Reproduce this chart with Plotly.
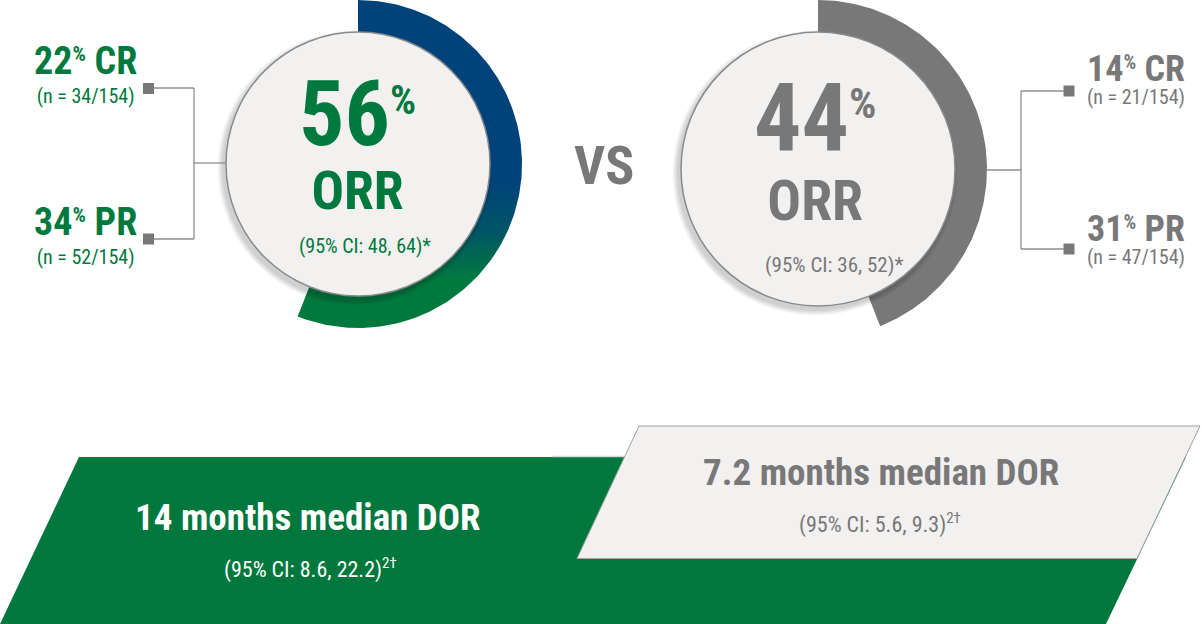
import numpy as np
import plotly.graph_objects as go

W, H = 1202, 624

# ---------------- data ----------------
arms = ["Treatment", "Comparator"]
orr_pct = [56, 44]
orr_ci = ["48, 64", "36, 52"]
cr_pct = [22, 14]
cr_n = ["34/154", "21/154"]
pr_pct = [34, 31]
pr_n = ["52/154", "47/154"]
dor_months = ["14", "7.2"]
dor_ci = ["8.6, 22.2", "5.6, 9.3"]

# ---------------- styles ----------------
GREEN = "#00793F"
BLUE = "#00437A"
GREY = "#787878"
LIGHT = "#F2F1F0"
LINE = "#8E8E8E"
FONT = "Roboto Condensed, Roboto, sans-serif"

donuts = [
    dict(cx=358, cy=164, r_out=164, r_in=130, r_circ=132),
    dict(cx=818, cy=169, r_out=169, r_in=135, r_circ=137),
]

fig = go.Figure()
shapes = []
annotations = []


def ring_xy(cx, cy, r_in, r_out, frac, n=200):
    th = np.linspace(0, frac * 2 * np.pi, n)
    xo = cx + r_out * np.sin(th)
    yo = cy - r_out * np.cos(th)
    xi = cx + r_in * np.sin(th[::-1])
    yi = cy - r_in * np.cos(th[::-1])
    return np.r_[xo, xi, xo[0]], np.r_[yo, yi, yo[0]]


for i, d in enumerate(donuts):
    x, y = ring_xy(d["cx"], d["cy"], d["r_in"], d["r_out"], orr_pct[i] / 100)
    if i == 0:
        fig.add_trace(go.Scatter(
            x=x, y=y, mode="lines", fill="toself", line=dict(width=0),
            fillgradient=dict(type="vertical", start=0, stop=320,
                              colorscale=[[0, BLUE], [0.57, BLUE], [0.72, "#005466"], [0.87, GREEN], [1, GREEN]]),
            hoverinfo="skip", showlegend=False, name=arms[i]))
    else:
        fig.add_trace(go.Scatter(
            x=x, y=y, mode="lines", fill="toself", line=dict(width=0),
            fillcolor=GREY, hoverinfo="skip", showlegend=False, name=arms[i]))

    cx, cy, r = d["cx"], d["cy"], d["r_circ"]
    for k, op in enumerate([0.05, 0.05, 0.05, 0.04]):
        rr = r + 1 + k * 1.5
        shapes.append(dict(type="circle", xref="x", yref="y", layer="above",
                           x0=cx - 3 - rr, x1=cx - 3 + rr, y0=cy + 4 - rr, y1=cy + 4 + rr,
                           fillcolor=f"rgba(0,0,0,{op})", line=dict(width=0)))
    shapes.append(dict(type="circle", xref="x", yref="y", layer="above",
                       x0=cx - r, x1=cx + r, y0=cy - r, y1=cy + r,
                       fillcolor=LIGHT, line=dict(color="#8A8A8A", width=1.5)))


def seg(x0, y0, x1, y1):
    shapes.append(dict(type="line", xref="x", yref="y", layer="above",
                       x0=x0, y0=y0, x1=x1, y1=y1, line=dict(color=LINE, width=1.3)))

seg(154, 88, 194, 88); seg(154, 239, 194, 239); seg(194, 88, 194, 239); seg(194, 163, 226, 163)
seg(1021, 91, 1064, 91); seg(1021, 249, 1064, 249); seg(1021, 91, 1021, 249); seg(987, 170, 1021, 170)

fig.add_trace(go.Scatter(
    x=[148.5, 148.5, 1069, 1069], y=[88.5, 239, 91, 249], mode="markers",
    marker=dict(symbol="square", size=11, color=GREY), hoverinfo="skip", showlegend=False))

shapes.append(dict(type="path", xref="x", yref="y", layer="below",
                   path="M 79 457 L 1186 457 L 1106 624 L 0 624 Z",
                   fillcolor="#00773D", line=dict(width=0)))
shapes.append(dict(type="line", xref="x", yref="y", layer="below",
                   x0=552, y0=456.5, x1=630, y1=456.5, line=dict(color="#D8D8D8", width=1.5)))
shapes.append(dict(type="path", xref="x", yref="y", layer="below",
                   path="M 639 426 L 1200 426 L 1137 558.5 L 577 558.5 Z",
                   fillcolor=LIGHT, line=dict(color="#A0A0A0", width=1)))


def ann(x, y, text, size, color, xanchor="center", yanchor="middle", weight="bold",
        family=FONT, align="center"):
    annotations.append(dict(x=x, y=y, xref="x", yref="y", text=text, showarrow=False,
                            xanchor=xanchor, yanchor=yanchor, align=align,
                            font=dict(family=family, size=size, color=color, weight=weight)))


def span(t, px, extra=""):
    return f'<span style="font-size:{px}px;{extra}">{t}</span>'


def big(num, px, orr_px):
    return (span(num, px) + span("%", round(px * 0.46), f"baseline-shift:{round(px * 0.35)}px")
            + "<br>" + span("ORR", orr_px))


def label(pct, kind, n, px):
    return (span(pct, px) + span("%", round(px * 0.55), f"baseline-shift:{round(px * 0.34)}px")
            + span(" " + kind, px) + "<br>" + span(f"(n = {n})", 20, "font-weight:normal"))


def ci_dor(ci):
    return f"(95% CI: {ci})" + span("2†", 15, "baseline-shift:9px")


# big ORR figures
ann(357, 60, big(orr_pct[0], 90, 54), 49, GREEN, yanchor="top")
ann(365, 246, f"(95% CI: {orr_ci[0]})*", 20, GREEN, weight="normal")
ann(815, 62, big(orr_pct[1], 94, 56), 53, GREY, yanchor="top")
ann(834, 265, f"(95% CI: {orr_ci[1]})*", 21, GREY, weight="normal")

# VS
ann(604, 165, "VS", 54, GREY)

# CR / PR labels
ann(85, 37, label(cr_pct[0], "CR", cr_n[0], 38), 22, GREEN, yanchor="top")
ann(85, 198, label(pr_pct[0], "PR", pr_n[0], 38), 22, GREEN, yanchor="top")
ann(1085, 46, label(cr_pct[1], "CR", cr_n[1], 36), 18, GREY, yanchor="top", xanchor="left", align="left")
ann(1085, 206, label(pr_pct[1], "PR", pr_n[1], 36), 18, GREY, yanchor="top", xanchor="left", align="left")

# DOR panels
ann(308, 517, f"{dor_months[0]} months median DOR", 37, "white")
ann(310, 568, ci_dor(dor_ci[0]), 22, "white", weight="normal")
ann(881, 472, f"{dor_months[1]} months median DOR", 37, GREY)
ann(880, 523, ci_dor(dor_ci[1]), 22, GREY, weight="normal")

fig.update_layout(
    width=W, height=H, margin=dict(l=0, r=0, t=0, b=0),
    paper_bgcolor="white", plot_bgcolor="white",
    xaxis=dict(range=[0, W], visible=False, fixedrange=True),
    yaxis=dict(range=[H, 0], visible=False, fixedrange=True),
    shapes=shapes, annotations=annotations, showlegend=False,
)

fig.write_html("out.html", config={"displayModeBar": False, "staticPlot": True},
               post_script="document.body.style.margin='0';document.body.style.overflow='hidden';")
